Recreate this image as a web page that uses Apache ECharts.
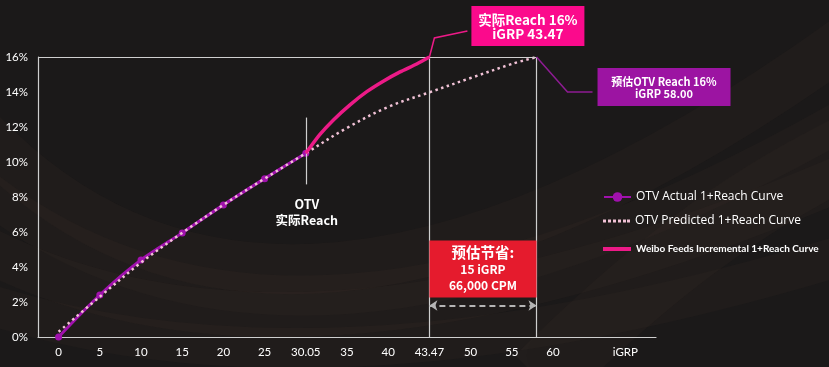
<!DOCTYPE html>
<html>
<head>
<meta charset="utf-8">
<script src="https://cdn.jsdelivr.net/npm/echarts@6/dist/echarts.min.js"></script>
<style>
html,body{margin:0;padding:0;background:#1b1919;}
#c{width:829px;height:367px;}
</style>
</head>
<body>
<div id="c"></div>
<script>
// ---- data ----
const tickLabels = ['0','5','10','15','20','25','30.05','35','40','43.47','50','55','60','','iGRP'];
const tickValues = [0,5,10,15,20,25,30.05,35,40,43.47,50,55,60];
const actualGrp = [0,5,10,15,20,25,30.05];
const actualReach = [0,2.4,4.4,5.95,7.55,9.05,10.5];
const predictedGrp = [0,5,10,15,20,25,30.05,35,40,43.47,50,55,58];
const predictedReach = [0.3,2.3,4.25,5.95,7.55,9.05,10.5,11.95,13.15,13.98,14.8,15.6,16.0];
const incrementalGrp = [30.05,31.7,33.4,35.4,37.4,39.4,41,42.4,43.47];
const incrementalReach = [10.5,11.55,12.42,13.28,14.02,14.62,15.15,15.6,16.0];
const seriesNames = ['OTV Actual 1+Reach Curve','OTV Predicted 1+Reach Curve','Weibo Feeds Incremental 1+Reach Curve'];
const actualNote = ['OTV','实际Reach'];
const actualBox = ['实际Reach 16%','iGRP 43.47'];
const predictedBox = ['预估OTV Reach 16%','iGRP 58.00'];
const savingBox = ['预估节省:','15 iGRP','66,000 CPM'];
const noteTop = 12.54, noteBottom = 8.72, arrowLevel = 1.8;

// the original chart spaces its tick labels evenly: map an iGRP value to a category position
function gIdx(v){
  for (let i = 0; i < tickValues.length - 1; i++) {
    if (v <= tickValues[i+1]) return i + (v - tickValues[i]) / (tickValues[i+1] - tickValues[i]);
  }
  return tickValues.length - 1;
}
const pts = (xs, ys) => xs.map((x, i) => [gIdx(x), ys[i]]);

const actualX = actualGrp[actualGrp.length-1];
const reachX = incrementalGrp[incrementalGrp.length-1];
const predX = predictedGrp[predictedGrp.length-1];
const topReach = predictedReach[predictedReach.length-1];

const chart = echarts.init(document.getElementById('c'));
const refLine = {color:'#cfcfcf', width:1.2, type:'solid'};
const bgWave = (x1,y1,c1x,c1y,c2x,c2y,x2,y2, w, a) => ({type:'bezierCurve', z:-10, silent:true,
  shape:{x1:x1,y1:y1,cpx1:c1x,cpy1:c1y,cpx2:c2x,cpy2:c2y,x2:x2,y2:y2},
  style:{fill:null, stroke:'rgba(115,80,66,'+a+')', lineWidth:w, shadowBlur:30, shadowColor:'rgba(115,80,66,'+(a*1.5)+')'}});
const dotsIcon = 'path://M0,0h3v3h-3z M5,0h3v3h-3z M10,0h3v3h-3z M15,0h3v3h-3z M20,0h3v3h-3z M24,0h3v3h-3z';
const legendBase = {orient:'vertical', left:603, padding:0, itemWidth:27,
  textStyle:{color:'#ffffff', fontFamily:'Open Sans', fontSize:12}};

chart.setOption({
  backgroundColor:'#1b1919',
  animation:false,
  grid:{left:38, right:173, top:57, bottom:30, containLabel:false},
  legend:[
    Object.assign({}, legendBase, {top:191, itemHeight:12, data:[{name:seriesNames[0]}]}),
    Object.assign({}, legendBase, {top:215, itemHeight:3, data:[{name:seriesNames[1], icon:dotsIcon}]}),
    Object.assign({}, legendBase, {top:244, itemHeight:4, itemWidth:28,
      textStyle:{color:'#ffffff', fontFamily:'Lato', fontSize:10, fontWeight:'bold'},
      data:[{name:seriesNames[2], icon:'rect'}]})
  ],
  xAxis:[
    {type:'category', data:tickLabels, boundaryGap:true,
     axisLine:{lineStyle:{color:'#cfcfcf', width:1.2}}, axisTick:{show:false},
     axisLabel:{color:'#ffffff', fontFamily:'Lato', fontSize:11.5, margin:9, interval:0,
       formatter:(v)=> v==='iGRP' ? '{g|'+v+'}' : v,
       rich:{g:{color:'#ffffff', fontFamily:'Lato', fontSize:11.5, padding:[0,20,0,0]}}},
     splitLine:{show:false}},
    {type:'value', min:-0.5, max:tickLabels.length-0.5, show:false}
  ],
  yAxis:{type:'value', min:0, max:16, interval:2,
    axisLine:{show:true, onZero:false, lineStyle:{color:'#cfcfcf', width:1.2}}, axisTick:{show:false},
    axisLabel:{color:'#ffffff', fontFamily:'Lato', fontSize:11.5, margin:10, formatter:'{value}%'},
    splitLine:{show:false}},
  series:[
    {name:seriesNames[0], type:'line', xAxisIndex:1, data:pts(actualGrp, actualReach), smooth:0.3,
     symbol:'circle', symbolSize:7, showSymbol:true,
     itemStyle:{color:'#a011ad'}, lineStyle:{color:'#a011ad', width:3}, z:3},
    {name:seriesNames[1], type:'line', xAxisIndex:1, data:pts(predictedGrp, predictedReach), smooth:0.35,
     symbol:'none', itemStyle:{color:'#f1c2d6'}, lineStyle:{color:'#f1c2d6', width:2.5, type:[2.5,3.5]}, z:4,
     markLine:{silent:true, symbol:'none', label:{show:false}, lineStyle:refLine, animation:false,
       data:[
         [{coord:[-0.5, topReach]}, {coord:[gIdx(predX), topReach]}],
         [{coord:[gIdx(reachX), 0]}, {coord:[gIdx(reachX), topReach]}],
         [{coord:[gIdx(predX), 0]}, {coord:[gIdx(predX), topReach]}],
         [{coord:[gIdx(actualX), noteBottom]}, {coord:[gIdx(actualX), noteTop]}],
         [{coord:[gIdx(reachX), arrowLevel], lineStyle:{color:'#b5b5b5', width:2, type:[6,4]}, symbol:'arrow', symbolSize:[8,8]},
          {coord:[gIdx(predX), arrowLevel], symbol:'arrow', symbolSize:[8,8]}]
       ]}},
    {name:seriesNames[2], type:'line', xAxisIndex:1, data:pts(incrementalGrp, incrementalReach), smooth:0.2,
     symbol:'none', itemStyle:{color:'#ec1a87'}, lineStyle:{color:'#ec1a87', width:3.5}, z:5}
  ]
});

// annotations anchored on data points
const P = (g, r) => chart.convertToPixel({xAxisIndex:1, yAxisIndex:0}, [gIdx(g), r]);
const a1 = P(reachX, topReach);
const a2 = P(predX, topReach);
const a3 = P(actualX, noteBottom);
const a4 = P((reachX + predX) / 2, arrowLevel);
const boldCJK = (size) => 'bold ' + size + 'px "Noto Sans CJK SC", "Open Sans", sans-serif';
const txt = (x, y, t, size) => ({type:'text', z:20, x:x, y:y,
  style:{text:t, fill:'#ffffff', font:boldCJK(size), align:'center', verticalAlign:'middle'}});

chart.setOption({graphic:[
  bgWave(-40,110, 140,320, 420,350, 860,30, 50, 0.07),
  bgWave(-40,170, 180,360, 480,330, 860,110, 40, 0.06),
  bgWave(-40,235, 220,385, 560,300, 860,170, 45, 0.07),
  bgWave(-40,295, 260,400, 600,330, 860,250, 40, 0.06),
  bgWave(540,380, 640,280, 740,200, 870,140, 70, 0.07),
  {type:'polyline', z:15, shape:{points:[a1, [a1[0]+5, a1[1]-19], [a1[0]+38, a1[1]-26]]},
   style:{stroke:'#ec1a87', lineWidth:1.5, fill:null}},
  {type:'polyline', z:15, shape:{points:[a2, [a2[0]+31, a2[1]+35], [a2[0]+56, a2[1]+35]]},
   style:{stroke:'#8e1b93', lineWidth:1.5, fill:null}},
  {type:'rect', z:18, shape:{x:a1[0]+42, y:a1[1]-51, width:113, height:40}, style:{fill:'#fb0a8c'}},
  txt(a1[0]+98.5, a1[1]-37, actualBox[0], 13.5),
  txt(a1[0]+98.5, a1[1]-23, actualBox[1], 13.5),
  {type:'rect', z:18, shape:{x:a2[0]+61, y:a2[1]+11, width:133, height:38}, style:{fill:'#9c14a2'}},
  txt(a2[0]+127.5, a2[1]+25, predictedBox[0], 11),
  txt(a2[0]+127.5, a2[1]+37, predictedBox[1], 11),
  {type:'rect', z:18, shape:{x:a1[0], y:a4[1]-65, width:a2[0]-a1[0], height:57}, style:{fill:'#e51b2d'}},
  txt((a1[0]+a2[0])/2, a4[1]-53, savingBox[0], 14.5),
  txt((a1[0]+a2[0])/2, a4[1]-36, savingBox[1], 12),
  txt((a1[0]+a2[0])/2, a4[1]-20, savingBox[2], 12),
  txt(a3[0]+1, a3[1]+20, actualNote[0], 12.5),
  txt(a3[0]+1, a3[1]+36, actualNote[1], 12.5)
]});
</script>
</body>
</html>
